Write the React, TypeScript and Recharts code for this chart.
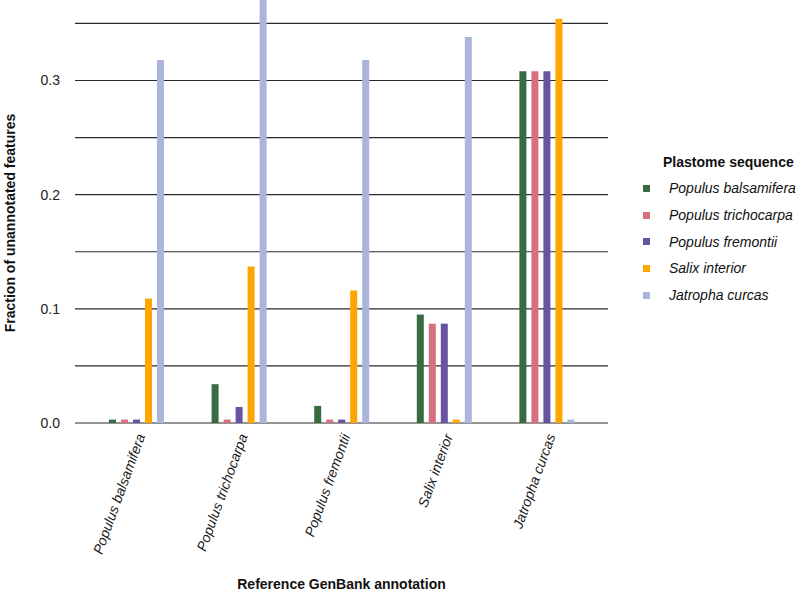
import { Bar, BarChart, CartesianGrid, Label, XAxis, YAxis } from "recharts";

const categories = ["Populus balsamifera", "Populus trichocarpa", "Populus fremontii", "Salix interior", "Jatropha curcas"];
const balsamifera = [0.003, 0.034, 0.015, 0.095, 0.308];
const trichocarpa = [0.003, 0.003, 0.003, 0.087, 0.308];
const fremontii = [0.003, 0.014, 0.003, 0.087, 0.308];
const salix = [0.109, 0.137, 0.116, 0.003, 0.354];
const jatropha = [0.318, 0.376, 0.318, 0.338, 0.003];
const yTicks = [0, 0.1, 0.2, 0.3];
const gridValues = [0, 0.05, 0.1, 0.15, 0.2, 0.25, 0.3, 0.35];

const series = [
  { key: "pb", name: "Populus balsamifera", values: balsamifera, color: "#386b42" },
  { key: "pt", name: "Populus trichocarpa", values: trichocarpa, color: "#d86f7e" },
  { key: "pf", name: "Populus fremontii", values: fremontii, color: "#6753a0" },
  { key: "si", name: "Salix interior", values: salix, color: "#ffa500" },
  { key: "jc", name: "Jatropha curcas", values: jatropha, color: "#abb5dc" },
];

const data = categories.map((c, i) => {
  const row: Record<string, string | number> = { name: c };
  series.forEach((s) => { row[s.key] = s.values[i]; });
  return row;
});

const font = "'Liberation Sans', Arial, Helvetica, sans-serif";

function XTick({ x, y, payload }: any) {
  return (
    <g transform={`translate(${x + 9},${y + 5})`}>
      <text transform="rotate(-70)" textAnchor="end" fontSize={14} fontStyle="italic" fill="#1a1a1a" fontFamily={font}>
        {payload.value}
      </text>
    </g>
  );
}

export default function App() {
  return (
    <div style={{ position: "fixed", left: 0, top: 0, width: 800, height: 591, background: "#fff", fontFamily: font }}>
      <BarChart width={800} height={591} data={data} margin={{ top: 0, right: 192, bottom: 0, left: 0 }} barSize={7} barGap={5}>
        <CartesianGrid vertical={false} horizontalValues={gridValues} stroke="#2b2b2b" strokeWidth={1.2} />
        <XAxis dataKey="name" height={168} padding={{ left: 10, right: 10 }} axisLine={false} tickLine={false} interval={0} tick={<XTick />}>
          <Label content={() => (
            <text x={341.5} y={589} textAnchor="middle" fontSize={14} fontWeight="bold" fill="#111" fontFamily={font}>Reference GenBank annotation</text>
          )} />
        </XAxis>
        <YAxis width={75} domain={[0, 0.3705]} allowDataOverflow ticks={yTicks} tickFormatter={(v: number) => v.toFixed(1)}
          axisLine={false} tickLine={false} tickMargin={9} tick={{ fontSize: 14, fill: "#222", fontFamily: font }}>
          <Label content={() => (
            <text x={15} y={223} transform="rotate(-90 15 223)" textAnchor="middle" fontSize={14} fontWeight="bold" fill="#111" fontFamily={font}>Fraction of unannotated features</text>
          )} />
        </YAxis>
        {series.map((s) => (
          <Bar key={s.key} dataKey={s.key} name={s.name} fill={s.color} isAnimationActive={false} />
        ))}
      </BarChart>
      <div style={{ position: "absolute", left: 643, top: 150, fontSize: 14, color: "#111" }}>
        <div style={{ fontWeight: "bold", marginLeft: 20, height: 25, lineHeight: "24px" }}>Plastome sequence</div>
        {series.map((s) => (
          <div key={s.key} style={{ display: "flex", alignItems: "center", height: 26.7 }}>
            <span style={{ width: 7, height: 7, background: s.color, display: "inline-block" }} />
            <span style={{ fontStyle: "italic", marginLeft: 19 }}>{s.name}</span>
          </div>
        ))}
      </div>
    </div>
  );
}
